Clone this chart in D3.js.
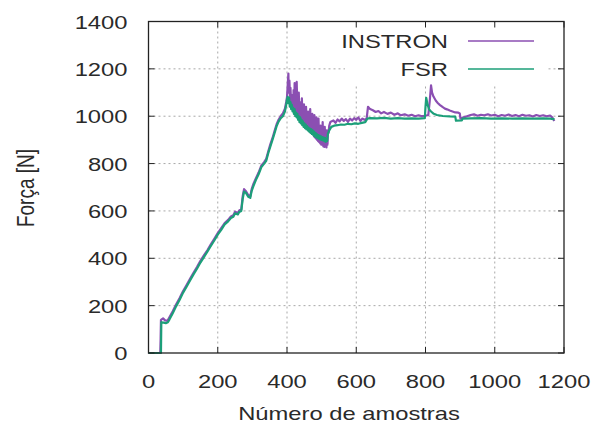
<!DOCTYPE html>
<html lang="pt">
<head>
  <meta charset="UTF-8">
  <title>Força vs amostras</title>
  <script src="https://d3js.org/d3.v7.min.js"></script>
  <style>
    body { margin: 0; background: #fff; }
    text { font-family: "Liberation Sans", Arial, sans-serif; fill: #2a2a2a; }
    .grid line { stroke: #a8a8a8; stroke-width: 1; stroke-dasharray: 2,3; }
  </style>
</head>
<body>
<div id="chart"></div>
<script>
// data: [amostra, força N]
var instron = [
  [0,0],[34,0],[35,60],[36,140],[42,146],[48,138],[55,136],[60,150],[70,176],[80,206],[90,232],
  [100,262],[110,287],[120,313],[130,339],[140,363],[150,389],[160,412],[170,434],[180,459],
  [190,482],[200,506],[210,527],[220,549],[230,562],[238,577],[245,582],[250,597],[258,591],
  [262,602],[268,607],[272,662],[276,692],[282,682],[288,667],[294,662],[298,692],[303,714],
  [310,737],[318,762],[326,792],[334,806],[340,820],[346,852],[352,882],[358,907],[364,937],
  [370,966],[376,986],[382,1001],[388,1012],[394,1032],[398,1062],
  [400,1080],[402,1130],[404,1180],[405,1100],[407,1150],[409,1070],[410,1120],[412,1050],
  [413,1090],[415,1040],[416,1070],[418,1035],[419,1110],[421,1020],[422,1140],[424,1030],
  [425,1080],[427,1010],[428,1145],[430,1020],[431,1070],[433,1000],[434,1100],[436,1000],
  [437,1060],[439,985],[440,1040],[442,990],[443,1075],[445,975],[446,1020],[448,965],
  [449,1050],[451,960],[452,1000],[454,950],[455,1040],[457,955],[458,990],[460,945],
  [461,1020],[463,940],[464,985],[466,935],[467,1030],[469,930],[470,980],[472,925],
  [473,1010],[475,930],[476,970],[478,915],[479,1005],[481,910],[482,960],[484,905],
  [485,995],[487,900],[488,950],[490,895],[491,990],[493,890],[494,940],[496,885],
  [497,960],[499,880],[500,935],[502,880],[503,975],[505,872],[506,930],[508,870],
  [509,955],[511,875],[512,920],[514,868],[515,940],[517,880],[518,925],[520,930],
  [522,960],[525,975],[528,978],[534,982],[540,972],[546,986],[552,978],[558,990],
  [564,980],[570,988],[576,976],[582,990],[588,982],[594,992],[600,985],[606,995],[612,980],
  [618,990],[624,985],[630,990],[634,1040],[640,1030],[648,1025],[656,1018],[664,1022],
  [672,1012],[680,1018],[690,1010],[700,1015],[710,1006],[720,1012],[728,1004],[740,1008],
  [750,1002],[760,1006],[770,1000],[780,1004],[790,1000],[800,1002],[808,1005],[812,1060],
  [816,1130],[819,1100],[823,1083],[830,1065],[836,1055],[842,1047],[850,1038],[856,1032],
  [862,1029],[870,1024],[878,1020],[886,1016],[895,1015],[899,1012],[901,990],[910,995],
  [920,1000],[930,1005],[940,1008],[950,1002],[960,1006],[970,1004],[980,1008],[990,1003],
  [1000,1006],[1010,1000],[1020,1005],[1030,1002],[1040,1007],[1050,1001],[1060,1005],
  [1070,1000],[1080,1006],[1090,1002],[1100,1004],[1110,999],[1120,1005],[1130,1001],
  [1140,1004],[1150,1000],[1160,1003],[1166,995],[1170,985],[1172,980]
];

var fsr = [
  [0,0],[36,0],[37,130],[44,128],[50,126],[56,130],[60,140],[70,168],[80,198],[90,225],
  [100,255],[110,280],[120,306],[130,332],[140,356],[150,382],[160,405],[170,428],[180,452],
  [190,475],[200,500],[210,520],[220,543],[230,556],[238,570],[245,575],[250,590],[258,585],
  [262,596],[268,600],[272,650],[276,682],[282,675],[288,660],[294,655],[298,685],[303,705],
  [310,730],[318,755],[326,785],[334,800],[340,812],[346,845],[352,872],[358,900],[364,928],
  [370,958],[376,978],[382,992],[388,1000],[394,1020],[398,1050],
  [400,1070],[402,1082],[404,1055],[406,1078],[408,1040],[410,1060],[412,1030],[414,1048],
  [416,1020],[418,1035],[420,1010],[422,1030],[424,1000],[426,1015],[428,995],[430,1010],
  [432,985],[434,1000],[436,975],[438,995],[440,970],[442,985],[444,962],[446,978],
  [448,955],[450,970],[452,950],[454,965],[456,945],[458,958],[460,940],[462,952],
  [464,935],[466,948],[468,930],[470,945],[472,925],[474,940],[476,920],[478,935],
  [480,915],[482,930],[484,912],[486,925],[488,908],[490,920],[492,905],[494,918],
  [496,902],[498,915],[500,900],[502,912],[504,898],[506,910],[508,895],[510,908],
  [512,892],[514,900],[516,896],[518,925],[522,940],[528,955],[536,960],[546,962],
  [556,965],[566,964],[576,968],[586,966],[596,970],[606,968],[616,972],[626,975],[632,990],
  [640,992],[660,991],[680,993],[700,990],[720,992],[740,990],[760,991],[780,990],[798,992],
  [800,1040],[802,1078],[806,1050],[810,1030],[816,1020],[824,1010],[833,1005],[850,1001],
  [870,999],[886,998],[888,981],[905,982],[907,990],[930,991],[960,992],[990,990],[1020,991],
  [1050,990],[1080,991],[1110,990],[1140,991],[1160,990],[1170,988],[1172,986]
];

var xTicks = [0, 200, 400, 600, 800, 1000, 1200];
var yTicks = [0, 200, 400, 600, 800, 1000, 1200, 1400];
var seriesNames = ["INSTRON", "FSR"];
var seriesColors = ["#8b4fb2", "#1c9f79"];

var margin = { top: 21.5, right: 34, bottom: 82, left: 148.5 },
  W = 598, H = 435,
  width = W - margin.left - margin.right,
  height = H - margin.top - margin.bottom;

var x = d3.scaleLinear().domain([0, 1200]).range([0, width]);
var y = d3.scaleLinear().domain([0, 1400]).range([height, 0]);

var svg = d3.select("#chart").append("svg")
  .attr("width", W).attr("height", H);

var g = svg.append("g")
  .attr("transform", "translate(" + margin.left + "," + margin.top + ")");

// grid
var grid = g.append("g").attr("class", "grid");
grid.selectAll(".gx").data(xTicks.slice(1, -1)).enter().append("line")
  .attr("x1", d => x(d)).attr("x2", d => x(d))
  .attr("y1", 0).attr("y2", height);
grid.selectAll(".gy").data(yTicks.slice(1, -1)).enter().append("line")
  .attr("x1", 0).attr("x2", width)
  .attr("y1", d => y(d)).attr("y2", d => y(d));

// text is stretched sideways in the original
var sx = 1.25;
function stretched(sel, tx, ty, anchor, str) {
  return sel.append("text")
    .attr("transform", "translate(" + tx + "," + ty + ") scale(" + sx + ",1)")
    .attr("text-anchor", anchor)
    .style("font-size", "19px")
    .text(str);
}

// legend background hides grid behind it
g.append("rect")
  .attr("x", 345 - margin.left).attr("y", 1)
  .attr("width", 203).attr("height", 63)
  .attr("fill", "#fff");

// lines
var line = d3.line().x(d => x(d[0])).y(d => y(d[1]));
[instron, fsr].forEach(function (s, i) {
  g.append("path")
    .datum(s)
    .attr("fill", "none")
    .attr("stroke", seriesColors[i])
    .attr("stroke-width", 2.2)
    .attr("stroke-linejoin", "round")
    .attr("d", line);
});

// legend
seriesNames.forEach(function (name, i) {
  var ly = 41 + i * 28 - margin.top;
  stretched(g, 448 - margin.left, ly + 7, "end", name);
  g.append("line")
    .attr("x1", 468 - margin.left).attr("x2", 534 - margin.left)
    .attr("y1", ly).attr("y2", ly)
    .attr("stroke", seriesColors[i]).attr("stroke-width", 1.5);
});

// ticks on all four sides, pointing in
var tk = 6, ticks = g.append("g").attr("stroke", "#222").attr("stroke-width", 1);
xTicks.forEach(function (v) {
  ticks.append("line").attr("x1", x(v)).attr("x2", x(v)).attr("y1", height).attr("y2", height - tk);
  ticks.append("line").attr("x1", x(v)).attr("x2", x(v)).attr("y1", 0).attr("y2", tk);
  stretched(g, x(v), height + 35, "middle", v);
});
yTicks.forEach(function (v) {
  ticks.append("line").attr("x1", 0).attr("x2", tk).attr("y1", y(v)).attr("y2", y(v));
  ticks.append("line").attr("x1", width).attr("x2", width - tk).attr("y1", y(v)).attr("y2", y(v));
  stretched(g, -21, y(v) + 7, "end", v);
});

// frame
g.append("rect")
  .attr("width", width).attr("height", height)
  .attr("fill", "none").attr("stroke", "#222").attr("stroke-width", 1.3);

// axis titles
stretched(svg, 349, 420, "middle", "Número de amostras");
svg.append("text")
  .attr("transform", "translate(34,188) rotate(-90) scale(1," + sx + ")")
  .attr("text-anchor", "middle")
  .style("font-size", "19px")
  .text("Força [N]");
</script>
</body>
</html>
